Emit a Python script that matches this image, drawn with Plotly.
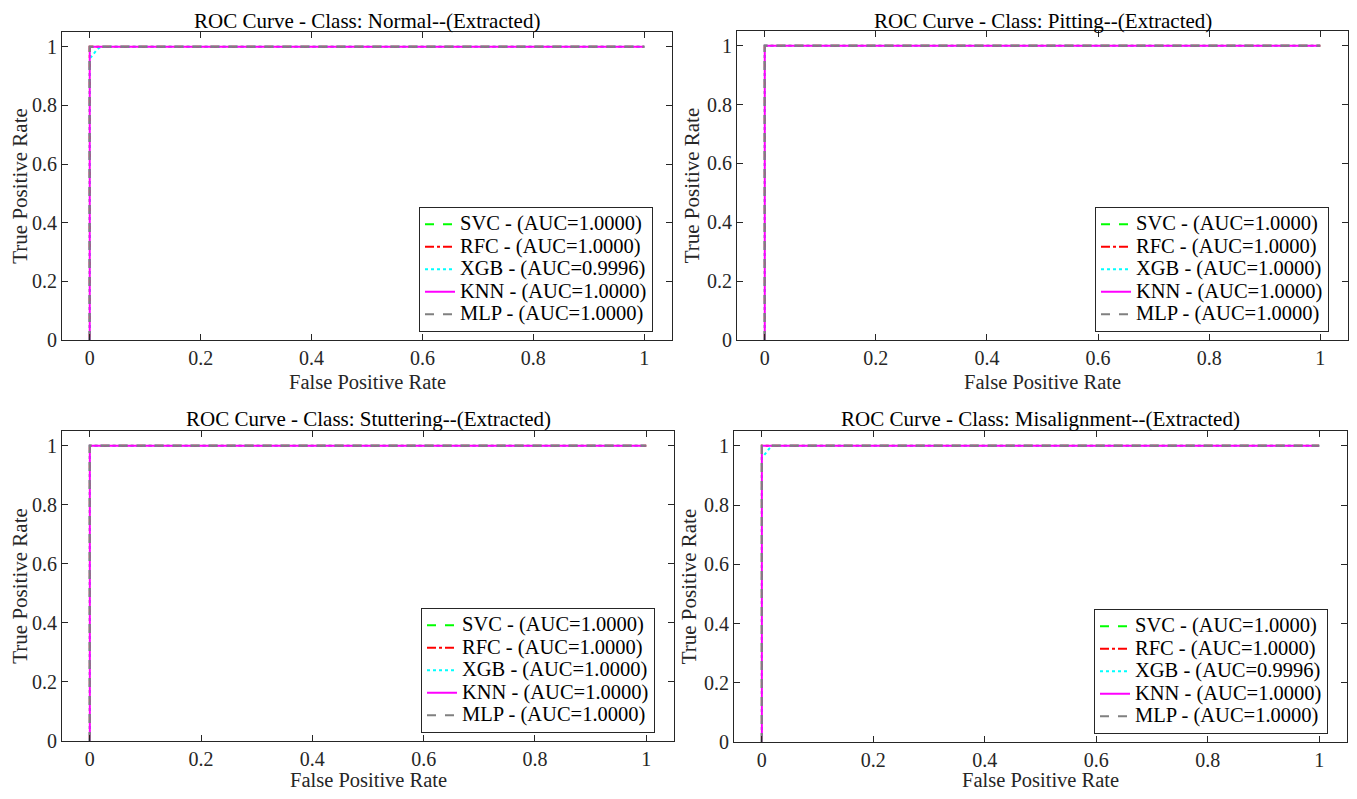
import plotly.graph_objects as go

W, H = 1357, 799
OFF = 8                      # page body margin of the browser
FW, FH = W - 2 * OFF, H - 2 * OFF

class_names = ["Normal", "Pitting", "Stuttering", "Misalignment"]
model_names = ["SVC", "RFC", "XGB", "KNN", "MLP"]

# AUC values per class and model
auc_normal = [1.0000, 1.0000, 0.9996, 1.0000, 1.0000]
auc_pitting = [1.0000, 1.0000, 1.0000, 1.0000, 1.0000]
auc_stuttering = [1.0000, 1.0000, 1.0000, 1.0000, 1.0000]
auc_misalignment = [1.0000, 1.0000, 0.9996, 1.0000, 1.0000]

# ROC points
fpr_perfect = [0.0, 0.0, 1.0]
tpr_perfect = [0.0, 1.0, 1.0]
fpr_xgb_bent = [0.0, 0.0, 0.004, 0.008, 0.013, 0.02, 1.0]
tpr_xgb_bent = [0.0, 0.96, 0.968, 0.978, 0.99, 1.0, 1.0]

xgb_normal = (fpr_xgb_bent, tpr_xgb_bent)
xgb_misalignment = (fpr_xgb_bent, tpr_xgb_bent)

x_ticks = [0, 0.2, 0.4, 0.6, 0.8, 1]
x_tick_labels = ["0", "0.2", "0.4", "0.6", "0.8", "1"]
y_ticks = [0, 0.2, 0.4, 0.6, 0.8, 1]
y_tick_labels = ["0", "0.2", "0.4", "0.6", "0.8", "1"]

colors = ["#00ff00", "#ff0000", "#00ffff", "#ff00ff", "#808080"]
dashes = ["dash", "dashdot", "dot", "solid", "dash"]

aucs = [auc_normal, auc_pitting, auc_stuttering, auc_misalignment]
curves = {
    0: {2: xgb_normal},
    3: {2: xgb_misalignment},
}

# panel pixel boxes in page coords: (left, right, top, bottom)
boxes = [(62, 672, 32, 340), (737, 1348, 31, 340), (62, 674, 431, 741), (734, 1347, 431, 742)]


def px(xp):
    return (xp - OFF) / FW


def py(yp):
    return 1 - (yp - OFF) / FH


FONT = "Liberation Serif"
fig = go.Figure()
layout = {}
for i, cname in enumerate(class_names):
    l, r, t, b = boxes[i]
    xd = [px(l), px(r)]
    yd = [py(b), py(t)]
    xa = "xaxis" if i == 0 else f"xaxis{i+1}"
    ya = "yaxis" if i == 0 else f"yaxis{i+1}"
    xr = "x" if i == 0 else f"x{i+1}"
    yr = "y" if i == 0 else f"y{i+1}"
    lg = "legend" if i == 0 else f"legend{i+1}"
    axis_common = dict(
        showline=True, mirror="allticks", linecolor="#262626", linewidth=1,
        ticks="inside", ticklen=6, tickcolor="#262626", showgrid=False, zeroline=False,
        automargin=False,
        tickfont=dict(family=FONT, size=20, color="#262626"),
        title_font=dict(family=FONT, size=21, color="#262626"),
    )
    layout[xa] = dict(domain=xd, anchor=yr, range=[-0.05, 1.05], tickvals=x_ticks,
                      ticktext=x_tick_labels, **axis_common)
    layout[ya] = dict(domain=yd, anchor=xr, range=[0, 1.05], tickvals=y_ticks,
                      ticktext=y_tick_labels, title=dict(text="True Positive Rate", standoff=1),
                      **axis_common)
    layout[lg] = dict(x=px(r - 19), y=py(b - 8), xanchor="right", yanchor="bottom",
                      bgcolor="white", bordercolor="#262626", borderwidth=1,
                      font=dict(family=FONT, size=15, color="black"),
                      tracegroupgap=0, itemwidth=30)
    for m, mname in enumerate(model_names):
        fx, ty = curves.get(i, {}).get(m, (fpr_perfect, tpr_perfect))
        fig.add_trace(go.Scatter(
            x=fx, y=ty, mode="lines", xaxis=xr, yaxis=yr, legend=lg,
            name=f"<span style='font-size:20.5px'>{mname} - (AUC={aucs[i][m]:.4f})</span>",
            line=dict(color=colors[m], dash=dashes[m], width=2),
        ))
    fig.add_annotation(text=f"ROC Curve - Class: {cname}--(Extracted)", xref="paper", yref="paper",
                       x=px((l + r) / 2), y=py(33.5 if t < 100 else t + 1), xanchor="center",
                       yanchor="bottom", showarrow=False, borderpad=0,
                       font=dict(family=FONT, size=21, color="black"))
    fig.add_annotation(text="False Positive Rate", xref="paper", yref="paper",
                       x=px((l + r) / 2), y=py(min(b + 42, 779.5)), xanchor="center",
                       yanchor="middle", showarrow=False, borderpad=0,
                       font=dict(family=FONT, size=20.5, color="#262626"))

fig.update_layout(width=FW, height=FH, margin=dict(l=0, r=0, t=0, b=0),
                  paper_bgcolor="white", plot_bgcolor="white", **layout)
fig.write_html("out.html")
